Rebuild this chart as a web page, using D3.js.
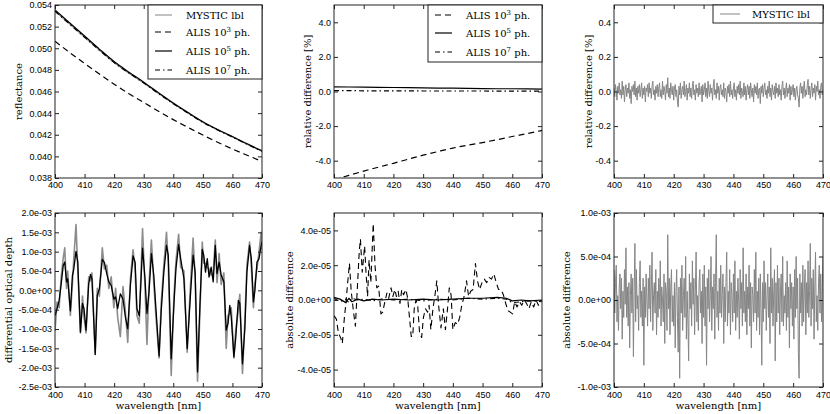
<!DOCTYPE html>
<html>
<head>
<meta charset="utf-8">
<script src="https://cdn.jsdelivr.net/npm/d3@7"></script>
<style>
  body { margin: 0; background: #fff; }
  svg { display: block; font-family: "DejaVu Serif", serif; }
  .tick text { font-size: 9px; fill: #000; }
  .tick line { stroke: #222; }
</style>
</head>
<body>
<svg id="chart" width="830" height="414"></svg>
<script>
// wavelength grids [nm]
const wl5 = [400, 405, 410, 415, 420, 425, 430, 435, 440, 445, 450, 455, 460, 465, 470];
const wlFine = d3.range(400, 470.001, 0.25);
const wlTicks = [400, 410, 420, 430, 440, 450, 460, 470];

// reflectance
const reflMystic = [0.05340, 0.05220, 0.05100, 0.04980, 0.04865, 0.04768, 0.04677, 0.04580, 0.04486, 0.04398, 0.04314, 0.04243, 0.04178, 0.04110, 0.04046];
const reflAlis3 = [0.05065, 0.04960, 0.04860, 0.04762, 0.04668, 0.04580, 0.04498, 0.04418, 0.04340, 0.04268, 0.04197, 0.04130, 0.04068, 0.04010, 0.03953];
const reflAlis5 = [0.05354, 0.05233, 0.05113, 0.04992, 0.04877, 0.04779, 0.04686, 0.04589, 0.04494, 0.04405, 0.04321, 0.04249, 0.04184, 0.04116, 0.04052];
const reflAlis7 = [0.05342, 0.05222, 0.05102, 0.04982, 0.04867, 0.04770, 0.04679, 0.04581, 0.04487, 0.04399, 0.04315, 0.04244, 0.04179, 0.04111, 0.04047];
const reflTicks = [0.038, 0.040, 0.042, 0.044, 0.046, 0.048, 0.050, 0.052, 0.054];

// relative difference ALIS vs MYSTIC lbl [%]
const relAlis3 = [-5.12, -4.85, -4.60, -4.37, -4.15, -3.91, -3.68, -3.47, -3.27, -3.10, -2.95, -2.78, -2.60, -2.43, -2.25];
const relAlis5 = [0.27, 0.26, 0.25, 0.24, 0.23, 0.22, 0.21, 0.20, 0.19, 0.18, 0.17, 0.16, 0.16, 0.15, 0.14];
const relAlis7 = [0.05, 0.05, 0.04, 0.04, 0.04, 0.04, 0.03, 0.03, 0.03, 0.03, 0.03, 0.02, 0.02, 0.02, 0.02];
const relTicks = [-4, -2, 0, 2, 4];

// relative difference MYSTIC lbl [%], on wlFine
const relLbl = [
  0.02, -0.03, 0.04, 0.00, -0.05, 0.03, -0.01, 0.05, -0.02, 0.01, -0.04, 0.06, -0.02, 0.03, -0.06, 0.01, 0.04, -0.03, 0.02, -0.01,
  0.05, -0.04, 0.01, -0.07, 0.03, 0.00, 0.04, -0.02, 0.06, -0.03, 0.02, -0.05, 0.03, -0.01, 0.04, -0.03, 0.01, 0.05, -0.04, 0.02,
  -0.02, 0.03, -0.06, 0.02, 0.00, 0.04, -0.03, 0.05, -0.01, 0.02, -0.04, 0.03, 0.06, -0.02, 0.01, -0.05, 0.03, -0.01, 0.04, -0.03,
  0.02, 0.05, -0.03, 0.01, -0.04, 0.06, -0.02, 0.03, 0.00, -0.05, 0.04, -0.01, 0.08, -0.03, 0.02, -0.04, 0.05, 0.01, -0.02, 0.03,
  -0.05, 0.02, 0.04, -0.03, 0.01, -0.06, -0.09, 0.03, -0.02, 0.05, -0.04, 0.01, 0.03, -0.02, 0.06, -0.03, 0.00, 0.04, -0.05, 0.02,
  -0.01, 0.05, -0.03, 0.02, -0.04, 0.03, 0.06, -0.02, 0.01, -0.05, 0.04, -0.01, 0.02, -0.03, 0.05, -0.02, 0.00, 0.03, -0.06, 0.04,
  -0.02, 0.01, 0.05, -0.03, 0.02, -0.04, 0.06, 0.00, -0.03, 0.04, -0.01, 0.02, -0.05, 0.03, 0.07, -0.02, 0.01, -0.04, 0.05, -0.01,
  0.03, -0.05, 0.02, 0.04, -0.02, 0.01, -0.03, 0.05, -0.04, 0.02, 0.00, -0.06, 0.03, -0.01, 0.04, -0.03, 0.06, -0.02, 0.01, -0.04,
  0.02, 0.05, -0.03, 0.01, -0.05, 0.03, -0.01, 0.04, -0.02, 0.06, -0.04, 0.02, 0.00, -0.03, 0.05, -0.02, 0.03, -0.05, 0.01, 0.04,
  -0.02, 0.03, -0.04, 0.05, 0.01, -0.03, 0.02, -0.06, 0.04, -0.01, 0.03, -0.02, 0.05, -0.04, 0.01, 0.02, -0.07, 0.03, -0.01, 0.04,
  -0.03, 0.02, 0.05, -0.02, 0.01, -0.04, 0.03, -0.01, 0.06, -0.03, 0.02, -0.05, 0.04, 0.00, -0.02, 0.03, -0.04, 0.05, -0.01, 0.02,
  -0.03, 0.04, -0.02, 0.01, -0.05, 0.03, 0.06, -0.02, 0.02, -0.04, 0.01, 0.05, -0.03, 0.02, -0.01, 0.04, -0.05, 0.03, -0.02, 0.01,
  0.04, -0.03, 0.02, -0.05, 0.01, 0.03, -0.02, -0.04, -0.09, 0.02, 0.05, -0.01, 0.03, -0.04, 0.02, 0.06, -0.03, 0.01, -0.02, 0.04,
  0.07, -0.02, 0.03, -0.04, 0.01, 0.05, -0.03, 0.02, -0.01, 0.04, -0.05, 0.03, 0.00, 0.06, -0.02, 0.01, -0.04, 0.03, 0.05, -0.02,
  0.01
];
const relLblTicks = [-0.4, -0.2, 0, 0.2, 0.4];

// differential optical depth [1e-3]
const dodX = [
  400.0, 400.7, 401.4, 402.1, 402.8, 403.3, 403.9, 404.3, 405.2, 405.9,
  406.3, 407.1, 407.7, 408.6, 409.3, 409.8, 410.5, 411.4, 412.0, 412.5,
  413.6, 414.3, 415.0, 416.0, 416.7, 417.5, 418.2, 419.0, 419.9, 420.5,
  421.2, 422.1, 423.0, 423.8, 424.6, 425.5, 426.4, 427.1, 427.7, 428.5,
  429.6, 430.4, 431.1, 431.8, 432.6, 433.4, 434.1, 435.2, 435.9, 436.8,
  437.7, 438.3, 439.3, 440.2, 440.9, 441.8, 442.5, 443.6, 444.7, 445.8,
  446.7, 447.4, 448.2, 449.0, 449.8, 450.3, 450.9, 451.5, 452.1, 452.8,
  453.5, 454.2, 454.8, 455.5, 456.2, 457.1, 457.9, 458.5, 459.1, 459.6,
  460.5, 461.1, 462.0, 462.5, 463.4, 464.2, 464.9, 465.8, 466.4, 467.1,
  467.6, 468.3, 469.0, 469.7, 470.0
];
const dodAlis = [
  -0.65, -0.47, -0.26, 0.17, 0.65, 0.73, 0.22, 0.30, -0.53, 0.39,
  0.52, 1.01, 0.73, -1.08, -0.34, -0.47, -1.03, 0.17, 0.41, 0.30,
  -1.66, -0.13, 0.04, 0.80, 0.72, 0.43, 0.22, 0.13, -0.23, -0.17,
  -0.47, -0.09, -0.23, -0.69, -0.99, 0.13, 0.89, 0.73, -0.47, -0.66,
  1.09, 0.34, -0.60, -0.04, 0.95, 0.39, -0.43, -1.70, -0.56, 0.47,
  1.16, 0.91, -1.77, -0.39, 0.56, 1.18, 0.82, 0.30, -1.51, -0.13,
  0.91, 0.47, -2.11, -0.39, 1.06, 0.91, 0.47, 0.82, 0.34, 0.60,
  0.22, 1.16, 0.43, 0.73, 0.39, 0.22, -1.03, -0.86, -0.39, -0.69,
  -1.72, -1.25, -0.26, -0.34, -1.90, -0.99, 0.47, 1.16, 0.82, -0.30,
  0.00, 0.73, 0.82, 1.16, 1.25
];
const dodLbl = [
  -1.05, -0.30, -0.45, 0.35, 0.85, 1.10, 0.05, 0.50, -0.65, 0.20,
  0.75, 1.70, 0.55, -1.10, -0.15, -0.70, -1.10, 0.35, 0.25, 0.45,
  -1.65, 0.05, -0.15, 1.10, 0.55, 0.65, 0.05, 0.35, -0.45, 0.05,
  -0.70, -1.20, 0.10, -0.55, -1.35, 0.30, 1.05, 0.50, -0.65, -0.85,
  1.60, 0.15, -1.40, 0.15, 1.30, 0.20, -0.65, -1.75, -0.35, 0.65,
  1.50, 0.70, -2.20, -0.20, 0.75, 1.45, 0.60, 0.50, -1.60, 0.10,
  1.35, 0.30, -2.35, -0.60, 1.25, 0.70, 0.70, 0.60, 0.55, 0.40,
  0.45, 1.30, 0.20, 0.95, 0.15, 0.45, -1.50, -0.65, -0.60, -0.45,
  -1.75, -1.05, -0.50, -0.10, -2.15, -0.80, 0.65, 1.25, 0.60, -0.45,
  0.20, 0.55, 1.00, 1.50, 1.05
];
const dodTicks = [-2.5, -2.0, -1.5, -1.0, -0.5, 0, 0.5, 1.0, 1.5, 2.0];

// absolute difference of dOD, ALIS 10^3 [1e-5], (wavelength, value)
const absAlis3 = [
  [400.0, -0.9], [400.8, -1.1], [401.5, -1.9], [402.3, -2.2], [402.8, -2.5],
  [403.5, -1.0], [404.0, -0.2], [404.5, 0.8], [405.2, 2.1], [405.8, 0.5],
  [406.5, -0.6], [407.2, -1.5], [407.8, 0.5], [408.5, 2.8], [408.9, 3.5],
  [409.5, 1.6], [410.3, 3.1], [410.8, 1.5], [411.3, 0.2], [411.8, 2.3],
  [412.4, 1.0], [413.2, 4.4], [413.8, 2.0], [414.4, 0.7], [415.0, 0.8],
  [415.8, -0.8], [416.4, -0.7], [417.0, -0.2], [417.8, 0.4], [418.4, 0.1],
  [419.2, 0.7], [419.8, 0.2], [420.5, 0.6], [421.0, 0.2], [421.6, 0.5],
  [422.2, -0.2], [422.8, 0.6], [423.4, 0.3], [424.2, 0.6], [424.8, 0.1],
  [425.4, -1.0], [426.0, -2.1], [426.5, -2.1], [427.0, -0.5], [427.6, 0.0],
  [428.2, -0.4], [428.8, -1.9], [429.5, -2.15], [430.1, -1.0], [430.8, -0.5],
  [431.5, -0.7], [432.0, -0.3], [432.6, -1.7], [433.3, -0.5], [434.0, 0.3],
  [434.6, 1.1], [435.2, -0.3], [436.0, -1.6], [436.8, -0.5], [437.5, -1.7],
  [438.2, -0.5], [438.8, 0.7], [439.4, 0.3], [440.0, -1.7], [440.8, -1.3],
  [441.6, -1.4], [442.3, -1.0], [443.0, -0.3], [443.8, 0.2], [444.6, 1.1],
  [445.3, 0.2], [446.0, 0.5], [446.8, 0.6], [447.6, 2.1], [448.3, 1.1],
  [449.0, 0.6], [449.8, 1.0], [450.6, 1.2], [451.4, 1.0], [452.2, 1.3],
  [453.0, 1.2], [453.8, 1.5], [454.6, 1.0], [455.4, 0.6], [456.2, 0.6],
  [457.0, 0.3], [457.8, -0.2], [458.5, -0.6], [459.3, -0.7], [460.1, -0.8],
  [460.8, -0.1], [461.6, -0.4], [462.4, -0.1], [463.2, -0.3], [464.0, 0.0],
  [464.8, -0.2], [465.6, -0.5], [466.4, -0.1], [467.2, -0.4], [468.0, 0.0],
  [468.8, -0.3], [469.5, -0.2], [470.0, -0.1]
];
const absX = [400, 402, 404, 405, 406, 408, 410, 413, 416, 420, 425, 430, 435, 440, 445, 450, 455, 458, 460, 463, 466, 470];
const absAlis5 = [0.15, 0.05, -0.15, 0.1, -0.1, 0.05, -0.05, 0.05, 0.0, 0.05, 0.0, 0.05, 0.0, 0.05, 0.1, 0.1, 0.15, 0.1, -0.05, 0.0, -0.05, 0.0];
const absAlis7 = [0.1, -0.1, 0.05, -0.15, 0.1, 0.0, 0.05, -0.05, 0.05, 0.0, 0.05, -0.05, 0.05, 0.0, 0.1, 0.05, 0.1, 0.05, -0.15, -0.1, -0.05, -0.1];
const absAlisTicks = [-4, -2, 0, 2, 4];

// absolute difference of dOD, MYSTIC lbl [1e-4], on wlFine
const absLbl = [
  3.5, -1.5, 2.0, 4.0, -2.5, 0.5, -3.5, 1.5, 3.0, -1.0, 2.5, -4.5, 1.0, -2.0, 3.5, -0.5, 6.0, -2.0, 1.5, -3.0,
  2.0, -5.5, 0.5, 3.0, -1.5, 2.5, -6.5, 1.0, 6.5, -2.5, 3.5, -1.0, 0.5, -3.5, 2.0, 4.5, -2.0, 1.0, -3.0, 2.5,
  -7.5, 1.5, -2.0, 3.0, 0.0, -3.0, 2.5, -1.0, 4.0, -2.5, 1.5, 5.5, -3.5, 0.5, 2.0, -1.5, 3.5, -4.0, 1.0, -2.0,
  2.5, -1.0, 4.5, -3.0, 1.5, 0.0, -2.5, 3.0, -5.0, 2.0, 1.0, -3.5, 7.5, -1.0, 2.5, -4.0, 1.5, 3.5, -2.5, 0.5,
  -3.0, 2.0, -5.5, 1.0, 3.5, -2.0, -6.0, 1.5, -9.0, 2.5, -1.5, 4.0, -3.5, 0.5, 2.5, -2.0, 5.0, -4.5, 1.0, -2.5,
  -7.0, 3.0, -1.0, 2.0, -3.0, 4.5, -0.5, 2.5, -4.0, 1.0, 5.5, -2.5, 0.5, -3.5, 2.0, 3.5, -1.5, 1.0, -5.0, 3.0,
  -2.0, 4.0, -3.0, 1.5, -7.5, 2.5, -1.0, 3.5, -2.5, 0.5, 5.0, -3.5, 1.5, -1.0, 3.0, -4.5, 2.0, 7.5, -2.0, 1.0,
  -3.5, 2.5, -1.5, 4.0, -2.0, 0.5, 3.0, -5.0, 1.5, -2.5, 2.0, 5.5, -3.0, 1.0, -1.5, 3.5, -4.0, 2.0, 0.5, -2.5,
  3.0, -1.5, 4.5, -3.5, 1.0, -2.0, 2.5, 0.0, -4.5, 3.5, -1.0, 2.0, -3.0, 6.0, -1.5, 1.0, -2.5, 3.0, -4.0, 1.5,
  -1.0, 4.0, -3.0, 2.0, -5.5, 1.5, 0.5, -2.5, 3.5, -1.5, 5.5, -3.5, 1.0, -2.0, 2.5, -4.0, 3.0, -1.0, -7.5, 2.0,
  -2.5, 4.5, -1.0, 2.0, -3.5, 0.5, 3.0, -2.0, 1.5, -5.0, 6.0, -1.5, 2.5, -3.0, 1.0, 3.5, -7.0, 2.0, -2.5, 4.0,
  -1.5, 2.5, -4.0, 1.0, 3.0, -2.5, 5.0, -3.0, 0.5, -1.5, 2.0, -3.5, 4.5, -2.0, 1.5, -5.5, 3.0, -1.0, 2.0, -3.0,
  1.5, -4.5, 3.5, -2.0, 5.0, -1.0, 2.5, -6.0, -9.0, 3.0, -1.5, 2.0, -3.0, 4.0, -2.5, 1.0, 3.5, -4.0, 2.0, -1.5,
  4.5, -2.0, 1.0, 6.5, -3.0, 2.5, -1.0, 3.5, -4.5, 1.5, 5.5, -2.5, 0.5, -3.5, 2.0, 4.0, -1.5, 3.0, -2.5, 1.5,
  5.0
];
const absLblTicks = [-10, -5, 0, 5, 10];

const grey = "#858585";

// "2.0e-03" style tick labels
function sci(v) {
  var parts = v.toExponential(1).split("e");
  var ex = +parts[1];
  return parts[0] + "e" + (ex < 0 ? "-" : "+") + String(Math.abs(ex)).padStart(2, "0");
}
function fixed(n) {
  return function (v) { return d3.format("." + n + "f")(v).replace("\u2212", "-"); };
}

const svg = d3.select("#chart");
svg.append("rect").attr("width", 830).attr("height", 414).attr("fill", "#fff");

const cols = [[55, 262], [334, 542], [614, 823]];
const rows = [[5, 178], [213, 387]];

function drawPanel(p) {
  var x0 = cols[p.col][0], x1 = cols[p.col][1];
  var y0 = rows[p.row][0], y1 = rows[p.row][1];

  var x = d3.scaleLinear().domain([400, 470]).range([x0, x1]);
  var y = d3.scaleLinear().domain(p.yDomain).range([y1, y0]);

  var g = svg.append("g");
  var clipId = "clip" + p.col + p.row;
  g.append("clipPath").attr("id", clipId)
    .append("rect").attr("x", x0).attr("y", y0).attr("width", x1 - x0).attr("height", y1 - y0);

  // lines
  var lines = g.append("g").attr("clip-path", "url(#" + clipId + ")");
  p.series.forEach(function (s) {
    var line = d3.line()
      .x(function (d) { return x(d[0]); })
      .y(function (d) { return y(d[1]); });
    if (s.curve) line.curve(s.curve);
    lines.append("path")
      .attr("d", line(s.data))
      .attr("fill", "none")
      .attr("stroke", s.color)
      .attr("stroke-width", s.width)
      .attr("stroke-dasharray", s.dash || null)
      .attr("stroke-linejoin", "round");
  });

  // axes, ticks inside on all sides
  g.append("g").attr("transform", "translate(0," + y1 + ")")
    .call(d3.axisBottom(x).tickValues(wlTicks).tickSize(-4).tickPadding(p.row ? 5 : 4).tickSizeOuter(0))
    .call(function (a) { a.select(".domain").remove(); });
  g.append("g").attr("transform", "translate(0," + y0 + ")")
    .call(d3.axisTop(x).tickValues(wlTicks).tickSize(-4).tickFormat("").tickSizeOuter(0))
    .call(function (a) { a.select(".domain").remove(); });
  g.append("g").attr("transform", "translate(" + x0 + ",0)")
    .call(d3.axisLeft(y).tickValues(p.yTicks).tickSize(-4).tickPadding(3).tickFormat(p.yFormat).tickSizeOuter(0))
    .call(function (a) { a.select(".domain").remove(); });
  g.append("g").attr("transform", "translate(" + x1 + ",0)")
    .call(d3.axisRight(y).tickValues(p.yTicks).tickSize(-4).tickFormat("").tickSizeOuter(0))
    .call(function (a) { a.select(".domain").remove(); });

  // frame
  g.append("rect")
    .attr("x", x0).attr("y", y0).attr("width", x1 - x0).attr("height", y1 - y0)
    .attr("fill", "none").attr("stroke", "#222").attr("stroke-width", 1);

  // y label
  g.append("text")
    .attr("transform", "translate(" + p.yLabelX + "," + (y0 + y1) / 2 + ") rotate(-90)")
    .attr("text-anchor", "middle")
    .attr("dy", "0.35em")
    .style("font-size", "10px")
    .text(p.yLabel);

  // x label only on bottom row
  if (p.row === 1) {
    g.append("text")
      .attr("x", (x0 + x1) / 2).attr("y", 409)
      .attr("text-anchor", "middle")
      .style("font-size", "10px")
      .text("wavelength [nm]");
  }

  // legend
  if (p.legend) {
    var L = p.legend;
    var lg = g.append("g");
    lg.append("rect")
      .attr("x", L.x).attr("y", y0).attr("width", x1 - L.x).attr("height", L.bottom - y0)
      .attr("fill", "#fff").attr("stroke", "#222").attr("stroke-width", 1);
    L.items.forEach(function (it, i) {
      var ry = L.rows[i];
      lg.append("line")
        .attr("x1", L.lineX[0]).attr("x2", L.lineX[1]).attr("y1", ry).attr("y2", ry)
        .attr("stroke", it.color).attr("stroke-width", it.width)
        .attr("stroke-dasharray", it.dash || null);
      var t = lg.append("text")
        .attr("x", L.textX).attr("y", ry).attr("dy", "0.35em")
        .style("font-size", "10px");
      if (it.sup) {
        t.append("tspan").text("ALIS 10");
        t.append("tspan").attr("dy", -4).style("font-size", "7px").text(it.sup);
        t.append("tspan").attr("dy", 4).text(" ph.");
      } else {
        t.text(it.label);
      }
    });
  }
}

const dash = "6,4";
const dashDot = "5,3,1.5,3";

const mysticItem = { label: "MYSTIC lbl", color: grey, width: 1 };
const alisItems = [
  { sup: "3", color: "#000", width: 1.2, dash: dash },
  { sup: "5", color: "#000", width: 1.2 },
  { sup: "7", color: "#000", width: 1.2, dash: dashDot }
];

function on(xs, ys) { return d3.zip(xs, ys); }

// top left: reflectance
drawPanel({
  col: 0, row: 0, yDomain: [0.038, 0.054], yTicks: reflTicks, yFormat: fixed(3),
  yLabel: "reflectance", yLabelX: 18,
  series: [
    { data: on(wl5, reflMystic), color: grey, width: 1, curve: d3.curveMonotoneX },
    { data: on(wl5, reflAlis3), color: "#000", width: 1.2, dash: dash, curve: d3.curveMonotoneX },
    { data: on(wl5, reflAlis5), color: "#000", width: 1.2, curve: d3.curveMonotoneX },
    { data: on(wl5, reflAlis7), color: "#000", width: 1.2, dash: dashDot, curve: d3.curveMonotoneX }
  ],
  legend: { x: 148, bottom: 79, rows: [15, 32, 51, 70], lineX: [155, 172], textX: 186,
            items: [mysticItem].concat(alisItems) }
});

// top middle: relative difference ALIS
drawPanel({
  col: 1, row: 0, yDomain: [-5, 5], yTicks: relTicks, yFormat: fixed(1),
  yLabel: "relative difference [%]", yLabelX: 307,
  series: [
    { data: on(wl5, relAlis3), color: "#000", width: 1.2, dash: dash, curve: d3.curveMonotoneX },
    { data: on(wl5, relAlis5), color: "#000", width: 1.2 },
    { data: on(wl5, relAlis7), color: "#000", width: 1.2, dash: dashDot }
  ],
  legend: { x: 428, bottom: 62, rows: [15, 33, 52], lineX: [435, 452], textX: 466, items: alisItems }
});

// top right: relative difference MYSTIC lbl
drawPanel({
  col: 2, row: 0, yDomain: [-0.5, 0.5], yTicks: relLblTicks, yFormat: fixed(1),
  yLabel: "relative difference [%]", yLabelX: 588,
  series: [
    { data: on(wlFine, relLbl), color: grey, width: 1 }
  ],
  legend: { x: 713, bottom: 23, rows: [14], lineX: [720, 740], textX: 752, items: [mysticItem] }
});

// bottom left: differential optical depth (values in 1e-3)
drawPanel({
  col: 0, row: 1, yDomain: [-2.5, 2.0], yTicks: dodTicks, yFormat: function (v) { return sci(v * 1e-3); },
  yLabel: "differential optical depth", yLabelX: 8,
  series: [
    { data: on(dodX, dodLbl), color: "#8c8c8c", width: 1.6 },
    { data: on(dodX, dodAlis), color: "#000", width: 1.3 }
  ]
});

// bottom middle: absolute difference ALIS (values in 1e-5)
drawPanel({
  col: 1, row: 1, yDomain: [-5, 5], yTicks: absAlisTicks, yFormat: function (v) { return sci(v * 1e-5); },
  yLabel: "absolute difference", yLabelX: 289,
  series: [
    { data: absAlis3, color: "#000", width: 1.1, dash: dash },
    { data: on(absX, absAlis5), color: "#000", width: 1.2 },
    { data: on(absX, absAlis7), color: "#000", width: 1.1, dash: dashDot }
  ]
});

// bottom right: absolute difference MYSTIC lbl (values in 1e-4)
drawPanel({
  col: 2, row: 1, yDomain: [-10, 10], yTicks: absLblTicks, yFormat: function (v) { return sci(v * 1e-4); },
  yLabel: "absolute difference", yLabelX: 566,
  series: [
    { data: on(wlFine, absLbl), color: grey, width: 1 }
  ]
});
</script>
</body>
</html>
